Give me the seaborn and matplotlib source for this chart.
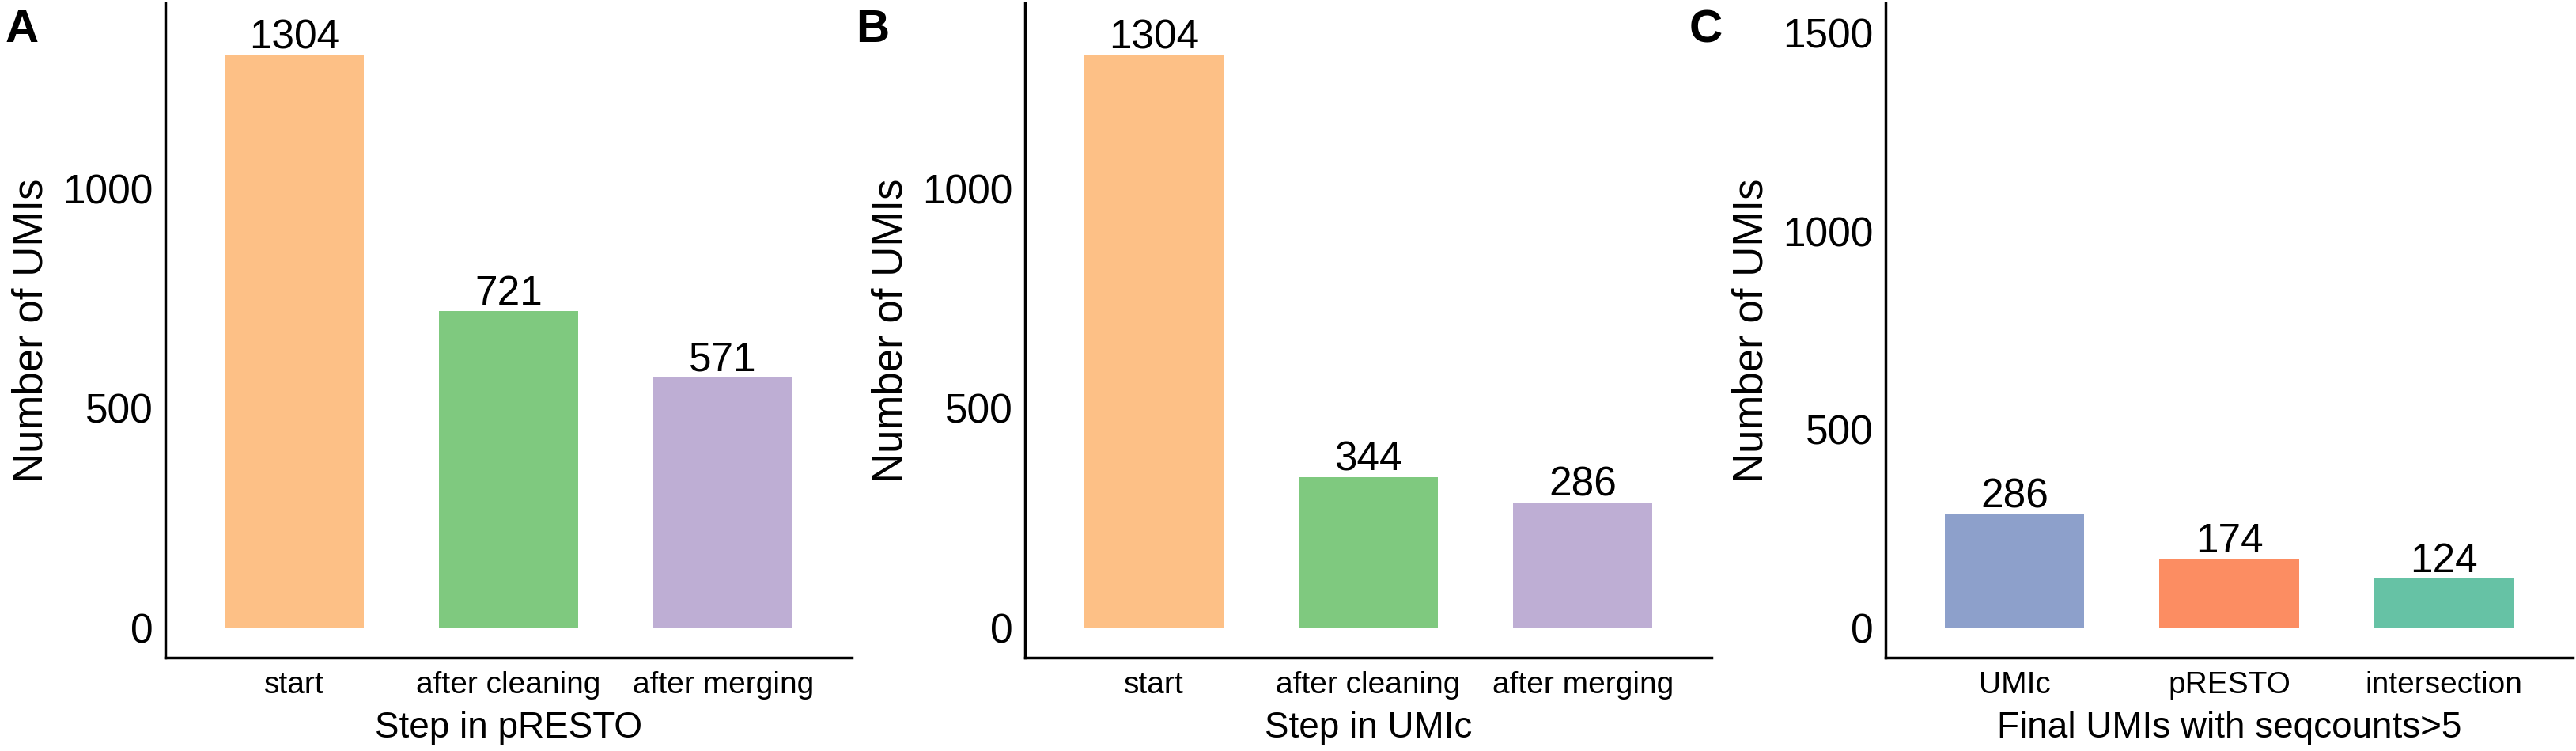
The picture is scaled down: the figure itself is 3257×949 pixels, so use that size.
import matplotlib
matplotlib.use("Agg")
import matplotlib.pyplot as plt
import seaborn as sns
import pandas as pd

# ---- data ----
steps = ["start", "after cleaning", "after merging"]
presto_counts = [1304, 721, 571]
umic_counts = [1304, 344, 286]
final_cats = ["UMIc", "pRESTO", "intersection"]
final_counts = [286, 174, 124]

steps_colors = ["#FDC086", "#7FC97F", "#BEAED4"]
final_colors = ["#8DA0CB", "#FC8D62", "#66C2A5"]

sns.set_style("white")
plt.rcParams['font.family'] = ['Liberation Sans', 'DejaVu Sans']
plt.rcParams['text.color'] = 'black'
plt.rcParams['axes.labelcolor'] = 'black'
plt.rcParams['xtick.color'] = 'black'
plt.rcParams['ytick.color'] = 'black'

W, H = 3257, 949
fig = plt.figure(figsize=(W / 100, H / 100), dpi=100)


def rect(left, right, top, bottom):
    return [left / W, (H - bottom) / H, (right - left) / W, (bottom - top) / H]


panels = [
    dict(rect=rect(209, 1077, 4, 831), cats=steps, vals=presto_counts, colors=steps_colors,
         xlabel="Step in pRESTO", ylim=(-67.75, 1422.75), yticks=[0, 500, 1000],
         letter="A", lx=7),
    dict(rect=rect(1296, 2164, 4, 831), cats=steps, vals=umic_counts, colors=steps_colors,
         xlabel="Step in UMIc", ylim=(-67.75, 1422.75), yticks=[0, 500, 1000],
         letter="B", lx=1082),
    dict(rect=rect(2384, 3253, 4, 831), cats=final_cats, vals=final_counts, colors=final_colors,
         xlabel="Final UMIs with seqcounts>5", ylim=(-75, 1575), yticks=[0, 500, 1000, 1500],
         letter="C", lx=2136),
]

for p in panels:
    ax = fig.add_axes(p["rect"])
    df = pd.DataFrame({"cat": p["cats"], "val": p["vals"]})
    sns.barplot(data=df, x="cat", y="val", hue="cat", palette=p["colors"],
                order=p["cats"], hue_order=p["cats"], width=0.65, saturation=1,
                legend=False, ax=ax, edgecolor="none")
    ax.set_xlim(-0.6, len(p["cats"]) - 0.4)
    ax.set_ylim(*p["ylim"])
    ax.set_yticks(p["yticks"])
    ax.set_yticklabels([str(t) for t in p["yticks"]], fontsize=37)
    ax.tick_params(axis="y", length=7, width=1.6, pad=4, color="black", labelcolor="black")
    ax.tick_params(axis="x", length=7, width=1.6, pad=5, color="black", labelcolor="black",
                   labelsize=28)
    for s in ["top", "right"]:
        ax.spines[s].set_visible(False)
    for s in ["left", "bottom"]:
        ax.spines[s].set_color("black")
        ax.spines[s].set_linewidth(2.5)
    ax.set_xlabel(p["xlabel"], fontsize=33, labelpad=10, color="black")
    ax.set_ylabel("Number of UMIs", fontsize=38, labelpad=11, color="black")
    for i, v in enumerate(p["vals"]):
        ax.annotate(str(v), (i, v), xytext=(0, 6), textcoords="offset points",
                    ha="center", va="baseline", fontsize=37, color="black",
                    annotation_clip=False)
    fig.text(p["lx"] / W, 1 - 11 / H, p["letter"], fontsize=42, fontweight="bold",
             ha="left", va="top", color="black")

fig.savefig("out.png", dpi=100)
